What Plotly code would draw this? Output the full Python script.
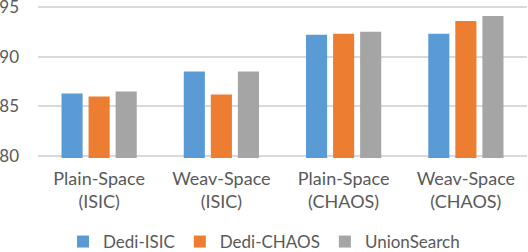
import plotly.graph_objects as go

categories = ["Plain-Space<br>(ISIC)", "Weav-Space<br>(ISIC)", "Plain-Space<br>(CHAOS)", "Weav-Space<br>(CHAOS)"]
dedi_isic = [86.3, 88.5, 92.2, 92.3]
dedi_chaos = [86.0, 86.2, 92.3, 93.6]
union_search = [86.5, 88.5, 92.5, 94.1]
y_ticks = [80, 85, 90, 95]

colors = ["#5b9bd5", "#ed7d31", "#a5a5a5"]
font_family = "Lato, Calibri, Carlito, sans-serif"

fig = go.Figure()
for name, vals, c in [("Dedi-ISIC", dedi_isic, colors[0]),
                      ("Dedi-CHAOS", dedi_chaos, colors[1]),
                      ("UnionSearch", union_search, colors[2])]:
    fig.add_trace(go.Bar(x=categories, y=vals, name=name, marker_color=c, marker_line_width=0))

fig.update_layout(
    width=528, height=252,
    margin=dict(l=38, r=1, t=5, b=94),
    paper_bgcolor="white", plot_bgcolor="white",
    barmode="group", bargap=0.336, bargroupgap=0.22,
    font=dict(family=font_family, size=17, color="#595959"),
    showlegend=True,
    legend=dict(orientation="h", x=0.5, xanchor="center", xref="container",
                y=0.0, yanchor="bottom", yref="container",
                font=dict(size=17, color="#595959"),
                itemwidth=30, tracegroupgap=0),
    xaxis=dict(showgrid=False, showline=False, ticks="", tickfont=dict(size=18),
               automargin=False, ticklabelstandoff=8),
    yaxis=dict(range=[79.8, 95.2], tickvals=y_ticks, showgrid=True, gridcolor="#d9d9d9",
               gridwidth=2, zeroline=False, showline=False, ticks="",
               tickfont=dict(size=17), ticklabelstandoff=18, automargin=False,
               ticklabeloverflow="allow"),
)

post = """
document.body.style.margin='0';
var gd = document.getElementById('{plot_id}');
function shiftLegend(){
  var lg = gd.querySelector('g.legend');
  if(!lg) return;
  var t = lg.getAttribute('transform') || '';
  var m = t.match(/translate\\(([-\\d.]+)[ ,]+([-\\d.]+)\\)/);
  if(!m) return;
  if(lg.getAttribute('data-shifted') === t) return;
  var nt = 'translate(' + m[1] + ',' + (parseFloat(m[2]) + 8) + ')';
  lg.setAttribute('transform', nt);
  lg.setAttribute('data-shifted', nt);
}
shiftLegend();
gd.on('plotly_afterplot', shiftLegend);
setTimeout(shiftLegend, 50);
"""
fig.write_html("out.html", post_script=post, config={"displayModeBar": False})
